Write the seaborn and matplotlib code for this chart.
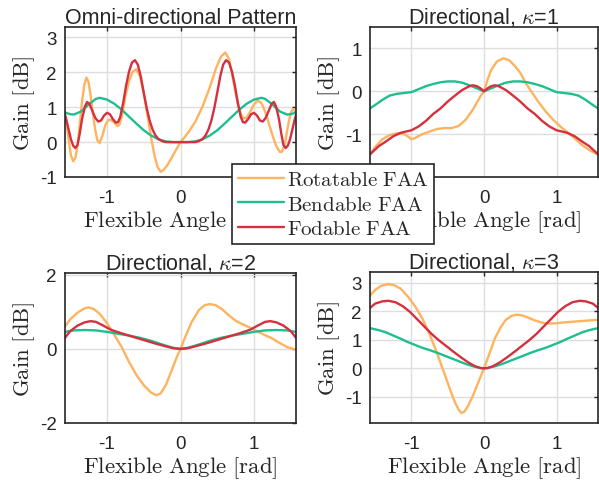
import matplotlib
matplotlib.use('Agg')
import matplotlib.pyplot as plt
import seaborn as sns

# -------------------
# DATA
# -------------------
# Omni-directional pattern
omni_rot_x = [-1.571, -1.55, -1.52, -1.49, -1.46, -1.43, -1.40, -1.37, -1.34, -1.31, -1.28, -1.25,
              -1.22, -1.19, -1.16, -1.13, -1.10, -1.06, -1.02, -0.98, -0.94, -0.90, -0.86, -0.83,
              -0.79, -0.75, -0.70, -0.65, -0.60, -0.55, -0.50, -0.45, -0.40, -0.35, -0.31, -0.27,
              -0.23, -0.18, -0.12, -0.06, 0.0, 0.06, 0.12, 0.20, 0.30, 0.40, 0.48, 0.55, 0.61,
              0.66, 0.70, 0.74, 0.78, 0.82, 0.86, 0.90, 0.95, 1.00, 1.05, 1.10, 1.15, 1.20, 1.25,
              1.30, 1.35, 1.38, 1.42, 1.46, 1.50, 1.53, 1.571]
omni_rot_y = [0.80, 0.55, 0.05, -0.38, -0.55, -0.45, -0.10, 0.50, 1.15, 1.62, 1.85, 1.72,
              1.30, 0.80, 0.35, 0.05, -0.03, 0.20, 0.50, 0.64, 0.63, 0.56, 0.46, 0.50,
              0.82, 1.30, 1.76, 2.02, 2.09, 1.88, 1.40, 0.78, 0.12, -0.42, -0.72, -0.85,
              -0.80, -0.66, -0.45, -0.22, 0.0, 0.15, 0.32, 0.58, 1.02, 1.58, 2.10, 2.45, 2.57,
              2.38, 1.98, 1.50, 1.10, 0.80, 0.68, 0.70, 0.88, 1.08, 1.19, 1.12, 0.88, 0.55, 0.20,
              -0.10, -0.28, -0.28, -0.05, 0.45, 0.85, 0.95, 0.85]

omni_bend_x = [-1.571, -1.50, -1.45, -1.35, -1.25, -1.15, -1.10, -1.00, -0.90, -0.80, -0.70, -0.60,
               -0.50, -0.40, -0.30, -0.20, -0.10, 0.0, 0.10, 0.20, 0.30, 0.40, 0.50, 0.60, 0.70,
               0.80, 0.90, 1.00, 1.10, 1.15, 1.25, 1.35, 1.45, 1.50, 1.571]
omni_bend_y = [0.85, 0.80, 0.79, 0.88, 1.08, 1.24, 1.27, 1.22, 1.10, 0.93, 0.73, 0.53,
               0.34, 0.19, 0.08, 0.02, 0.0, 0.0, 0.0, 0.02, 0.08, 0.19, 0.34, 0.53, 0.73,
               0.93, 1.10, 1.22, 1.27, 1.24, 1.08, 0.88, 0.79, 0.80, 0.85]

omni_fold_x = [-1.571, -1.55, -1.52, -1.49, -1.46, -1.43, -1.40, -1.37, -1.34, -1.30, -1.27, -1.24,
               -1.20, -1.16, -1.12, -1.08, -1.04, -1.00, -0.96, -0.92, -0.88, -0.85, -0.82, -0.78,
               -0.74, -0.70, -0.66, -0.62, -0.58, -0.54, -0.50, -0.46, -0.42, -0.38, -0.34, -0.30,
               -0.25, -0.20, 0.0, 0.20, 0.25, 0.30, 0.34, 0.38, 0.42, 0.46, 0.50, 0.54, 0.58, 0.62,
               0.66, 0.70, 0.74, 0.78, 0.82, 0.85, 0.88, 0.92, 0.96, 1.00, 1.04, 1.08, 1.12, 1.16,
               1.20, 1.24, 1.27, 1.30, 1.34, 1.37, 1.40, 1.43, 1.46, 1.49, 1.52, 1.55, 1.571]
omni_fold_y = [0.78, 0.62, 0.35, 0.08, -0.10, -0.17, -0.08, 0.25, 0.65, 1.02, 1.15, 1.10,
               0.90, 0.70, 0.59, 0.62, 0.76, 0.84, 0.80, 0.66, 0.56, 0.57, 0.72, 1.12,
               1.62, 2.02, 2.28, 2.35, 2.22, 1.88, 1.42, 0.98, 0.62, 0.36, 0.19, 0.09,
               0.03, 0.0, 0.0, 0.0, 0.03, 0.09, 0.19, 0.36, 0.62, 0.98, 1.42, 1.88, 2.22, 2.35,
               2.28, 2.02, 1.62, 1.12, 0.72, 0.57, 0.56, 0.66, 0.80, 0.84, 0.76, 0.62, 0.59, 0.70,
               0.90, 1.10, 1.15, 1.02, 0.65, 0.25, -0.08, -0.17, -0.10, 0.08, 0.35, 0.62, 0.78]

# Directional, kappa = 1
k1_rot_x = [-1.571, -1.50, -1.40, -1.30, -1.20, -1.10, -1.05, -1.00, -0.95, -0.85, -0.75, -0.65,
            -0.55, -0.45, -0.35, -0.25, -0.15, -0.05, 0.0, 0.05, 0.10, 0.18, 0.27, 0.35, 0.43,
            0.50, 0.58, 0.65, 0.75, 0.85, 0.95, 1.05, 1.15, 1.25, 1.35, 1.45, 1.571]
k1_rot_y = [-1.48, -1.30, -1.12, -1.02, -0.98, -1.00, -1.05, -1.12, -1.09, -1.00, -0.94, -0.88,
            -0.86, -0.86, -0.81, -0.66, -0.42, -0.12, 0.0, 0.28, 0.50, 0.70, 0.77, 0.72, 0.58,
            0.43, 0.18, 0.0, -0.25, -0.47, -0.66, -0.82, -0.96, -1.10, -1.25, -1.37, -1.48]

k1_bend_x = [-1.571, -1.50, -1.40, -1.30, -1.20, -1.10, -1.00, -0.90, -0.80, -0.70, -0.60, -0.50,
             -0.40, -0.30, -0.20, -0.10, 0.0, 0.10, 0.20, 0.30, 0.40, 0.50, 0.60, 0.70, 0.80,
             0.90, 1.00, 1.10, 1.20, 1.30, 1.40, 1.50, 1.571]
k1_bend_y = [-0.40, -0.32, -0.20, -0.10, -0.06, -0.04, -0.02, 0.05, 0.12, 0.17, 0.21, 0.23,
             0.23, 0.20, 0.14, 0.07, 0.0, 0.07, 0.14, 0.20, 0.23, 0.23, 0.21, 0.17, 0.12,
             0.05, -0.02, -0.04, -0.06, -0.10, -0.20, -0.32, -0.40]

k1_fold_x = [-1.571, -1.45, -1.35, -1.25, -1.15, -1.05, -1.00, -0.90, -0.80, -0.70, -0.60, -0.50,
             -0.40, -0.30, -0.20, -0.15, -0.10, -0.05, 0.0, 0.05, 0.10, 0.15, 0.20, 0.30, 0.40,
             0.50, 0.60, 0.70, 0.80, 0.90, 1.00, 1.05, 1.15, 1.25, 1.35, 1.45, 1.571]
k1_fold_y = [-1.47, -1.28, -1.17, -1.05, -0.97, -0.93, -0.91, -0.82, -0.69, -0.53, -0.40, -0.24,
             -0.10, 0.03, 0.12, 0.14, 0.12, 0.07, 0.0, 0.07, 0.12, 0.14, 0.12, 0.03, -0.10,
             -0.24, -0.40, -0.53, -0.69, -0.82, -0.91, -0.93, -0.97, -1.05, -1.17, -1.28, -1.47]

# Directional, kappa = 2
k2_rot_x = [-1.571, -1.50, -1.40, -1.30, -1.25, -1.18, -1.10, -1.00, -0.90, -0.80, -0.70, -0.60,
            -0.50, -0.40, -0.33, -0.27, -0.20, -0.12, -0.05, 0.0, 0.07, 0.15, 0.25, 0.33, 0.40,
            0.48, 0.56, 0.65, 0.75, 0.85, 0.95, 1.05, 1.15, 1.25, 1.35, 1.45, 1.571]
k2_rot_y = [0.60, 0.80, 0.98, 1.10, 1.12, 1.08, 0.95, 0.70, 0.38, 0.05, -0.35, -0.70,
            -0.98, -1.18, -1.25, -1.20, -0.98, -0.58, -0.22, 0.0, 0.35, 0.72, 1.05, 1.18, 1.21,
            1.18, 1.08, 0.92, 0.76, 0.66, 0.57, 0.47, 0.37, 0.28, 0.16, 0.05, -0.02]

k2_bend_x = [-1.571, -1.45, -1.30, -1.15, -1.00, -0.85, -0.70, -0.55, -0.40, -0.25, -0.10, 0.0,
             0.10, 0.25, 0.40, 0.55, 0.70, 0.85, 1.00, 1.15, 1.30, 1.45, 1.571]
k2_bend_y = [0.46, 0.50, 0.51, 0.50, 0.46, 0.41, 0.36, 0.30, 0.22, 0.12, 0.03, 0.0,
             0.03, 0.12, 0.22, 0.30, 0.36, 0.41, 0.46, 0.50, 0.51, 0.50, 0.46]

k2_fold_x = [-1.571, -1.50, -1.40, -1.30, -1.22, -1.15, -1.05, -0.95, -0.80, -0.65, -0.50, -0.35,
             -0.20, -0.10, 0.0, 0.10, 0.20, 0.35, 0.50, 0.65, 0.80, 0.95, 1.05, 1.15, 1.22,
             1.30, 1.40, 1.50, 1.571]
k2_fold_y = [0.30, 0.48, 0.63, 0.72, 0.75, 0.73, 0.63, 0.52, 0.42, 0.33, 0.24, 0.15,
             0.07, 0.02, 0.0, 0.02, 0.07, 0.15, 0.24, 0.33, 0.42, 0.52, 0.63, 0.73, 0.75,
             0.72, 0.63, 0.48, 0.30]

# Directional, kappa = 3
k3_rot_x = [-1.571, -1.50, -1.42, -1.33, -1.25, -1.15, -1.05, -0.95, -0.85, -0.75, -0.65, -0.55,
            -0.47, -0.40, -0.35, -0.31, -0.27, -0.22, -0.15, -0.08, 0.0, 0.08, 0.15, 0.23, 0.30,
            0.38, 0.45, 0.52, 0.60, 0.70, 0.80, 0.90, 1.00, 1.10, 1.25, 1.40, 1.571]
k3_rot_y = [2.55, 2.75, 2.89, 2.95, 2.93, 2.80, 2.52, 2.18, 1.75, 1.20, 0.55, -0.15,
            -0.73, -1.20, -1.45, -1.57, -1.52, -1.32, -0.95, -0.50, 0.0, 0.55, 1.05, 1.44, 1.70,
            1.84, 1.88, 1.86, 1.79, 1.68, 1.60, 1.57, 1.58, 1.61, 1.64, 1.67, 1.70]

k3_bend_x = [-1.571, -1.45, -1.35, -1.25, -1.15, -1.05, -0.95, -0.85, -0.75, -0.65, -0.55, -0.45,
             -0.35, -0.25, -0.15, -0.05, 0.0, 0.05, 0.15, 0.25, 0.35, 0.45, 0.55, 0.65, 0.75,
             0.85, 0.95, 1.05, 1.15, 1.25, 1.35, 1.45, 1.571]
k3_bend_y = [1.41, 1.34, 1.26, 1.15, 1.04, 0.92, 0.82, 0.72, 0.64, 0.55, 0.45, 0.35,
             0.25, 0.15, 0.07, 0.01, 0.0, 0.01, 0.07, 0.15, 0.25, 0.35, 0.45, 0.55, 0.64,
             0.72, 0.82, 0.92, 1.04, 1.15, 1.26, 1.34, 1.41]

k3_fold_x = [-1.571, -1.50, -1.40, -1.32, -1.22, -1.12, -1.02, -0.92, -0.82, -0.72, -0.62, -0.52,
             -0.42, -0.32, -0.22, -0.12, -0.05, 0.0, 0.05, 0.12, 0.22, 0.32, 0.42, 0.52, 0.62,
             0.72, 0.82, 0.92, 1.02, 1.12, 1.22, 1.32, 1.40, 1.50, 1.571]
k3_fold_y = [2.12, 2.27, 2.35, 2.37, 2.32, 2.18, 1.98, 1.72, 1.46, 1.20, 0.98, 0.78,
             0.58, 0.39, 0.21, 0.07, 0.01, 0.0, 0.01, 0.07, 0.21, 0.39, 0.58, 0.78, 0.98,
             1.20, 1.46, 1.72, 1.98, 2.18, 2.32, 2.37, 2.35, 2.27, 2.12]

labels = [r'$\mathrm{Rotatable\ FAA}$', r'$\mathrm{Bendable\ FAA}$', r'$\mathrm{Fodable\ FAA}$']
titles = ['Omni-directional Pattern', r'Directional, $\kappa$=1',
          r'Directional, $\kappa$=2', r'Directional, $\kappa$=3']
x_ticks = [-1, 0, 1]

# -------------------
# STYLE
# -------------------
sns.set_style('whitegrid')
plt.rcParams['font.family'] = ['Liberation Sans', 'DejaVu Sans']
plt.rcParams['mathtext.fontset'] = 'cm'
plt.rcParams['axes.unicode_minus'] = False

c_rot = '#FDB35F'
c_bend = '#1FBE8E'
c_fold = '#D5303F'

W, H = 599, 489
fig = plt.figure(figsize=(W / 100, H / 100), dpi=100)


def px_axes(left, top, right, bottom):
    return fig.add_axes([left / W, 1 - bottom / H, (right - left) / W, (bottom - top) / H])


def draw_panel(ax, curves, title, ylim, yticks):
    for x, y, c in curves:
        sns.lineplot(x=x, y=y, ax=ax, color=c, lw=1.7, sort=False, estimator=None)
    ax.set_xlim(-1.5708, 1.5708)
    ax.set_ylim(*ylim)
    ax.set_xticks(x_ticks)
    ax.set_yticks(yticks)
    ax.set_title(title, fontsize=15.5, pad=3)
    ax.set_xlabel(r'$\mathrm{Flexible\ Angle\ [rad]}$', fontsize=16.4, labelpad=1)
    ax.set_ylabel(r'$\mathrm{Gain\ [dB]}$', fontsize=16.4, labelpad=2)
    ax.grid(True, color='#DEDEDE', lw=1.0)
    ax.tick_params(direction='in', length=3, width=1, top=True, right=True,
                   labelsize=13.5, colors='#262626', pad=6)
    ax.tick_params(axis='x', pad=9)
    for s in ax.spines.values():
        s.set_color('#262626')
        s.set_linewidth(1.2)


# -------------------
# PANELS
# -------------------
ax1 = px_axes(65, 28, 296, 178)
draw_panel(ax1, [(omni_rot_x, omni_rot_y, c_rot), (omni_bend_x, omni_bend_y, c_bend),
                 (omni_fold_x, omni_fold_y, c_fold)], titles[0], (-1, 3.3), [-1, 0, 1, 2, 3])

# the -2 label of this panel sits under the legend in the reference
ax2 = px_axes(370, 28, 598, 178)
draw_panel(ax2, [(k1_rot_x, k1_rot_y, c_rot), (k1_bend_x, k1_bend_y, c_bend),
                 (k1_fold_x, k1_fold_y, c_fold)], titles[1], (-2, 1.5), [-1, 0, 1])

ax3 = px_axes(65, 274, 296, 424)
draw_panel(ax3, [(k2_rot_x, k2_rot_y, c_rot), (k2_bend_x, k2_bend_y, c_bend),
                 (k2_fold_x, k2_fold_y, c_fold)], titles[2], (-2, 2.05), [-2, 0, 2])

ax4 = px_axes(370, 273, 598, 424)
draw_panel(ax4, [(k3_rot_x, k3_rot_y, c_rot), (k3_bend_x, k3_bend_y, c_bend),
                 (k3_fold_x, k3_fold_y, c_fold)], titles[3], (-1.92, 3.38), [-1, 0, 1, 2, 3])

# -------------------
# LEGEND
# -------------------
handles = ax1.get_lines()[:3]
leg = fig.legend(handles, labels, loc='upper left', bbox_to_anchor=(232 / W, 1 - 165 / H),
                 bbox_transform=fig.transFigure, fontsize=15, frameon=True, fancybox=False,
                 framealpha=1, edgecolor='#262626', handlelength=2.2, handletextpad=0.15,
                 labelspacing=0.28, borderpad=0.28, borderaxespad=0)
leg.get_frame().set_linewidth(1.2)
for line in leg.get_lines():
    line.set_linewidth(1.7)

fig.savefig('out.png', dpi=100)
